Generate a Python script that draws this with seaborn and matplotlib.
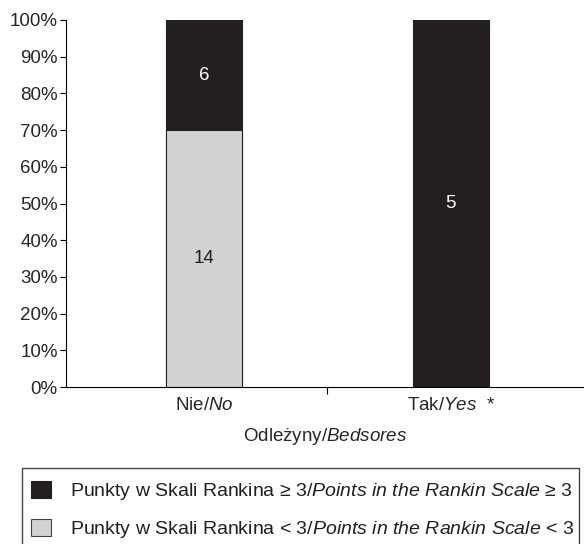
import matplotlib
matplotlib.use('Agg')
import matplotlib.pyplot as plt
from matplotlib.patches import Patch, Rectangle
import seaborn as sns
import pandas as pd

# Data: counts per group
groups = ['Nie/$\\mathit{No}$', 'Tak/$\\mathit{Yes}$  *']
rankin_high = [6, 5]    # Rankin >= 3
rankin_low = [14, 0]    # Rankin < 3
legend_labels = [
    'Punkty w Skali Rankina \u2265 3/$\\mathit{Points\\ in\\ the\\ Rankin\\ Scale\\ {\u2265}\\ 3}$',
    'Punkty w Skali Rankina < 3/$\\mathit{Points\\ in\\ the\\ Rankin\\ Scale}$ < 3',
]

dark = '#231f20'
light = '#d1d2d4'

sns.set_style('white')
plt.rcParams['font.family'] = ['Liberation Sans', 'DejaVu Sans']
plt.rcParams['mathtext.fontset'] = 'custom'
plt.rcParams['mathtext.rm'] = 'Liberation Sans'
plt.rcParams['mathtext.it'] = 'Liberation Sans:italic'
plt.rcParams['text.color'] = '#231f20'

totals = [h + l for h, l in zip(rankin_high, rankin_low)]
df = pd.DataFrame({
    'group': groups,
    'total': [100.0 for t in totals],
    'low': [100.0 * l / t for l, t in zip(rankin_low, totals)],
})

W, H = 584, 544
fig = plt.figure(figsize=(W / 100, H / 100), dpi=100)
ax = fig.add_axes([66 / W, 1 - 387 / H, 1 - 66 / W, 367 / H])

# stacked: full bar (dark) then lower part (light) over it
sns.barplot(data=df, x='group', y='total', color=dark, width=0.31,
            edgecolor=dark, linewidth=0.8, saturation=1, ax=ax)
sns.barplot(data=df, x='group', y='low', color=light, width=0.31,
            edgecolor=dark, linewidth=0.8, saturation=1, ax=ax)

# value labels
for i in range(len(groups)):
    low_pct = df['low'][i]
    if rankin_low[i] > 0:
        ax.text(i, low_pct / 2, str(rankin_low[i]), ha='center', va='center',
                fontsize=13.5, color=dark)
    ax.text(i, low_pct + (100 - low_pct) / 2, str(rankin_high[i]),
            ha='center', va='center', fontsize=13.5, color='white')

ax.set_xlim(-0.56, 1.54)
ax.set_ylim(0, 100)
ax.set_yticks(range(0, 101, 10))
ax.set_yticklabels([f'{v}%' for v in range(0, 101, 10)], fontsize=13.5)
ax.set_xticks([0, 1])
ax.set_xticklabels(groups, fontsize=13.5)
ax.set_xticks([0.5], minor=True)
ax.tick_params(axis='x', which='major', length=0, pad=7)
ax.tick_params(axis='x', which='minor', length=5, width=0.8, bottom=True, color='black')
ax.tick_params(axis='y', length=4, width=0.8, pad=2, left=True, color='black')
ax.set_xlabel('Odle\u017cyny/$\\mathit{Bedsores}$', fontsize=13.5, labelpad=9)
ax.set_ylabel('')
for s in ['top', 'right']:
    ax.spines[s].set_visible(False)
for s in ['left', 'bottom']:
    ax.spines[s].set_color('black')
    ax.spines[s].set_linewidth(0.8)

# legend box
fig.patches.append(Rectangle((22 / W, -0.05), (579 - 22) / W, 0.05 + 1 - 468 / H,
                             transform=fig.transFigure, fill=False,
                             edgecolor='#444444', linewidth=1.0))
handles = [Patch(facecolor=dark, edgecolor=dark, linewidth=0.8),
           Patch(facecolor=light, edgecolor='#444444', linewidth=0.8)]
leg = fig.legend(handles, legend_labels, loc='upper left',
                 bbox_to_anchor=(31 / W, 1 - 481 / H),
                 fontsize=14, frameon=False, borderpad=0, borderaxespad=0,
                 handlelength=1.03, handleheight=1.0, handletextpad=0.95,
                 labelspacing=0.85)

fig.savefig('out.png', dpi=100)
